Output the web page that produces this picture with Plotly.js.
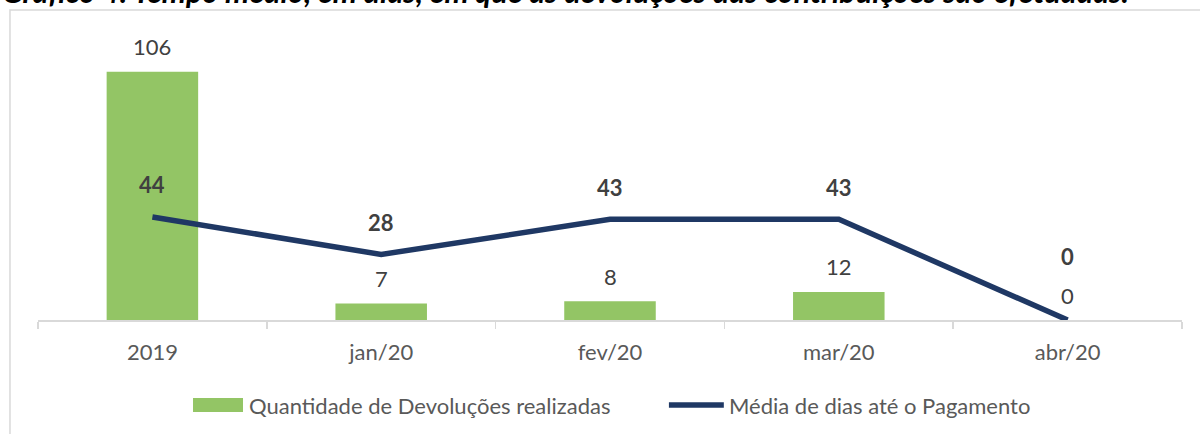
<!DOCTYPE html>
<html>
<head>
<meta charset="utf-8">
<script src="https://cdn.plot.ly/plotly-3.0.1.min.js"></script>
<style>
  html, body { margin: 0; padding: 0; background: #fff; }
  #chart { width: 1200px; height: 434px; }
</style>
</head>
<body>
<div id="chart"></div>
<script>
(function () {
    'use strict';

    var categories = ['2019', 'jan/20', 'fev/20', 'mar/20', 'abr/20'];
    var devolucoes = [106, 7, 8, 12, 0];
    var mediaDias = [44, 28, 43, 43, 0];
    var mediaShift = [32, 32, 32, 32, 64];

    var FONT = 'Lato, "Open Sans", sans-serif';
    var GREEN = '#93C565';
    var NAVY = '#1F3864';

    var barTrace = {
        type: 'bar',
        name: 'Quantidade de Devoluções realizadas',
        x: categories,
        y: devolucoes,
        width: 0.4,
        marker: { color: GREEN },
        hoverinfo: 'x+y'
    };

    var lineTrace = {
        type: 'scatter',
        mode: 'lines',
        name: 'Média de dias até o Pagamento',
        x: categories,
        y: mediaDias,
        line: { color: NAVY, width: 5.5 },
        hoverinfo: 'x+y'
    };

    var annotations = [];
    // x pelo índice da categoria ('2019' seria lido como número)
    categories.forEach(function (c, i) {
        annotations.push({
            x: i, y: devolucoes[i], xref: 'x', yref: 'y',
            text: String(devolucoes[i]), showarrow: false,
            yanchor: 'middle', yshift: 25,
            font: { family: FONT, size: 22, color: '#404040' }
        });
        annotations.push({
            x: i, y: mediaDias[i], xref: 'x', yref: 'y',
            text: '<b>' + mediaDias[i] + '</b>', showarrow: false,
            yanchor: 'middle', yshift: mediaShift[i],
            font: { family: FONT, size: 22, color: '#404040' }
        });
    });

    // título cortado no topo, como no original
    annotations.push({
        xref: 'paper', yref: 'paper', x: -0.0332, y: 1.0996,
        xanchor: 'left', yanchor: 'bottom', showarrow: false,
        text: '<b><i>Gráfico 4: Tempo médio, em dias, em que as devoluções das contribuições são efetuadas.</i></b>',
        font: { family: FONT, size: 30.5, color: '#000000' }
    });

    // legenda desenhada à mão (símbolos largos como no Excel)
    annotations.push({
        xref: 'paper', yref: 'paper', x: 0.1827, y: -0.3025,
        xanchor: 'left', yanchor: 'middle', showarrow: false,
        text: barTrace.name,
        font: { family: FONT, size: 22, color: '#595959' }
    });
    annotations.push({
        xref: 'paper', yref: 'paper', x: 0.6023, y: -0.3025,
        xanchor: 'left', yanchor: 'middle', showarrow: false,
        text: lineTrace.name,
        font: { family: FONT, size: 22, color: '#595959' }
    });

    var shapes = [
        {
            type: 'rect', xref: 'paper', yref: 'paper',
            x0: -0.0245, x1: 1.2, y0: -0.5, y1: 1.1032,
            line: { color: '#D9D9D9', width: 1.5 }, fillcolor: 'rgba(0,0,0,0)'
        },
        {
            type: 'rect', xref: 'paper', yref: 'paper',
            x0: 0.1355, x1: 0.1792, y0: -0.327, y1: -0.278,
            line: { width: 0 }, fillcolor: GREEN
        },
        {
            type: 'line', xref: 'paper', yref: 'paper',
            x0: 0.5515, x1: 0.5995, y0: -0.3025, y1: -0.3025,
            line: { color: NAVY, width: 5.5 }
        }
    ];

    var layout = {
        width: 1200,
        height: 434,
        margin: { l: 38, r: 18, t: 39, b: 114, pad: 0 },
        paper_bgcolor: '#ffffff',
        plot_bgcolor: '#ffffff',
        showlegend: false,
        xaxis: {
            type: 'category',
            range: [-0.5, 4.5],
            showline: true,
            linecolor: '#D9D9D9',
            linewidth: 1.5,
            ticks: 'outside',
            tickson: 'boundaries',
            ticklen: 7,
            tickcolor: '#D9D9D9',
            tickwidth: 1.5,
            ticklabelstandoff: 12,
            showgrid: false,
            zeroline: false,
            tickfont: { family: FONT, size: 22, color: '#595959' },
            fixedrange: true
        },
        yaxis: {
            range: [0, 120],
            showgrid: false,
            zeroline: false,
            showline: false,
            showticklabels: false,
            ticks: '',
            fixedrange: true
        },
        annotations: annotations,
        shapes: shapes
    };

    Plotly.newPlot('chart', [barTrace, lineTrace], layout, { displayModeBar: false, staticPlot: true });
})();
</script>
</body>
</html>
